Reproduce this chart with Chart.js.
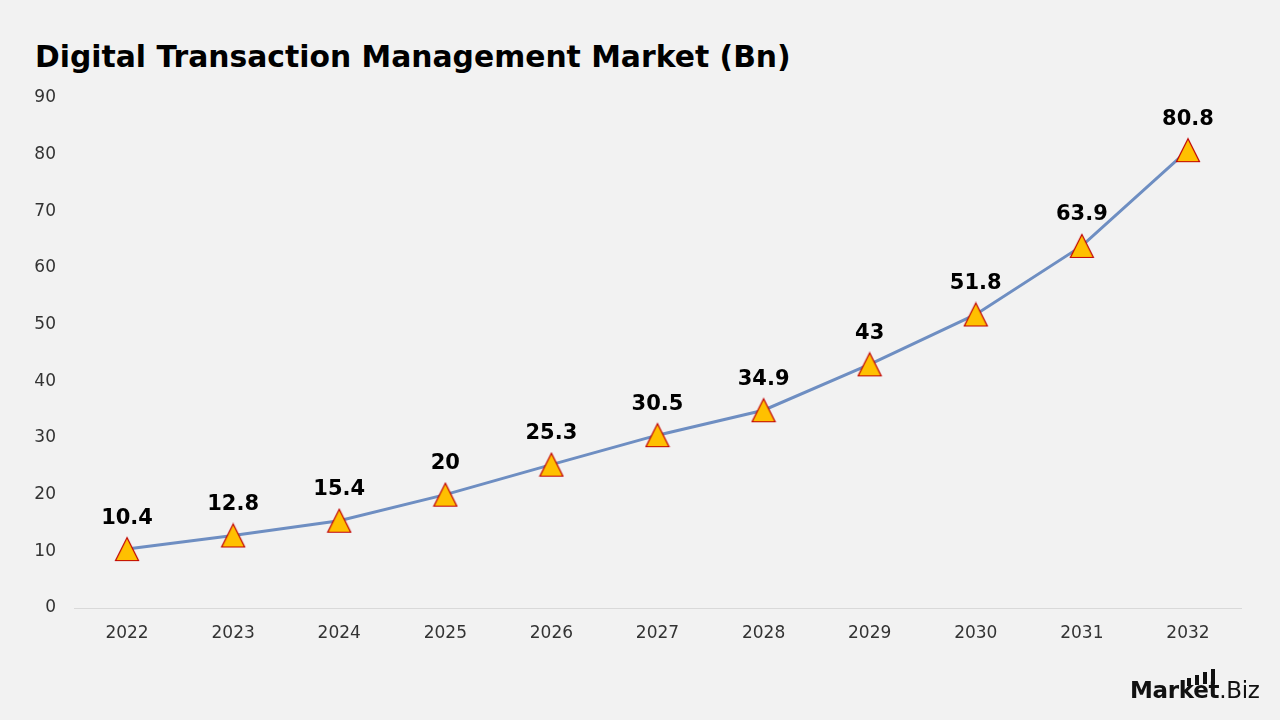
<!DOCTYPE html>
<html>
<head>
<meta charset="utf-8">
<script src="https://cdn.jsdelivr.net/npm/chart.js@4.4.1/dist/chart.umd.min.js"></script>
<style>
  html, body { margin:0; padding:0; background:#F2F2F2; }
  #wrap { position:relative; width:1280px; height:720px; background:#F2F2F2; overflow:hidden; }
  #title { position:absolute; left:35px; top:42px; font-family:"DejaVu Sans", sans-serif; font-weight:700; font-size:29.8px; line-height:30px; color:#000; white-space:nowrap; }
  canvas { position:absolute; left:0; top:0; }
  #logo { position:absolute; left:1130px; top:678px; font-family:"DejaVu Sans", sans-serif; font-size:23px; line-height:24px; color:#111; white-space:nowrap; letter-spacing:-0.3px; }
  #logo b { font-weight:700; }
  .bar { position:absolute; background:#111; width:4px; }
</style>
</head>
<body>
<div id="wrap">
  <div id="title">Digital Transaction Management Market (Bn)</div>
  <canvas id="c" width="1280" height="720"></canvas>
  <div id="logo"><b>Marke<span id="tt">t</span></b>.Biz</div>
</div>
<script>
const categories = ["2022","2023","2024","2025","2026","2027","2028","2029","2030","2031","2032"];
const marketValues = [10.4, 12.8, 15.4, 20, 25.3, 30.5, 34.9, 43, 51.8, 63.9, 80.8];
const yTicks = [0,10,20,30,40,50,60,70,80,90];

// triangle marker image (taller than equilateral, centred on the point)
function makeTriangle() {
  const cv = document.createElement('canvas');
  cv.width = 26; cv.height = 26;
  const g = cv.getContext('2d');
  g.beginPath();
  g.moveTo(13, 1.5);
  g.lineTo(24.5, 24.5);
  g.lineTo(1.5, 24.5);
  g.closePath();
  g.fillStyle = '#FFC000';
  g.fill();
  g.lineWidth = 1.2;
  g.strokeStyle = '#C00000';
  g.stroke();
  return cv;
}
const tri = makeTriangle();

const labelPlugin = {
  id: 'valueLabels',
  afterDatasetsDraw(chart) {
    const ctx = chart.ctx;
    const meta = chart.getDatasetMeta(0);
    ctx.save();
    ctx.font = 'bold 21px "DejaVu Sans", sans-serif';
    ctx.fillStyle = '#000';
    ctx.textAlign = 'center';
    ctx.textBaseline = 'middle';
    meta.data.forEach((pt, i) => {
      ctx.fillText(String(marketValues[i]), pt.x, pt.y - 31);
    });
    ctx.restore();
  }
};

new Chart(document.getElementById('c'), {
  type: 'line',
  data: {
    labels: categories,
    datasets: [{
      data: marketValues,
      borderColor: '#6E8EC2',
      borderWidth: 3,
      tension: 0,
      pointStyle: tri,
      pointRadius: 13,
      pointHoverRadius: 13
    }]
  },
  options: {
    responsive: false,
    animation: false,
    devicePixelRatio: 1,
    layout: { padding: { left: 0, right: 39, top: 98, bottom: 72 } },
    plugins: { legend: { display: false }, tooltip: { enabled: false } },
    scales: {
      x: {
        offset: true,
        grid: { display: false, drawTicks: false },
        border: { display: true, color: '#D9D9D9', width: 1 },
        ticks: { color: '#333', font: { family: '"DejaVu Sans", sans-serif', size: 17 }, padding: 15 },
        afterFit(s) { s.height = 40; }
      },
      y: {
        min: 0, max: 90,
        afterBuildTicks(s) { s.ticks = yTicks.map(v => ({ value: v })); },
        grid: { display: false, drawTicks: false },
        border: { display: false },
        ticks: { color: '#333', font: { family: '"DejaVu Sans", sans-serif', size: 17 }, padding: 18 },
        afterFit(s) { s.width = 74; }
      }
    }
  },
  plugins: [labelPlugin]
});

// logo bars above "ket"
(function(){
  const wrap = document.getElementById('wrap');
  const r = document.getElementById('tt').getBoundingClientRect();
  const stemX = r.left + 2;
  const bars = [
    { x: stemX - 24, top: 678, h: 8 },
    { x: stemX - 16, top: 675, h: 10 },
    { x: stemX - 8,  top: 672, h: 12 },
    { x: stemX,      top: 669, h: 15 }
  ];
  bars.forEach(b => {
    const d = document.createElement('div');
    d.className = 'bar';
    d.style.left = b.x + 'px';
    d.style.top = b.top + 'px';
    d.style.height = b.h + 'px';
    wrap.appendChild(d);
  });
})();
</script>
</body>
</html>
